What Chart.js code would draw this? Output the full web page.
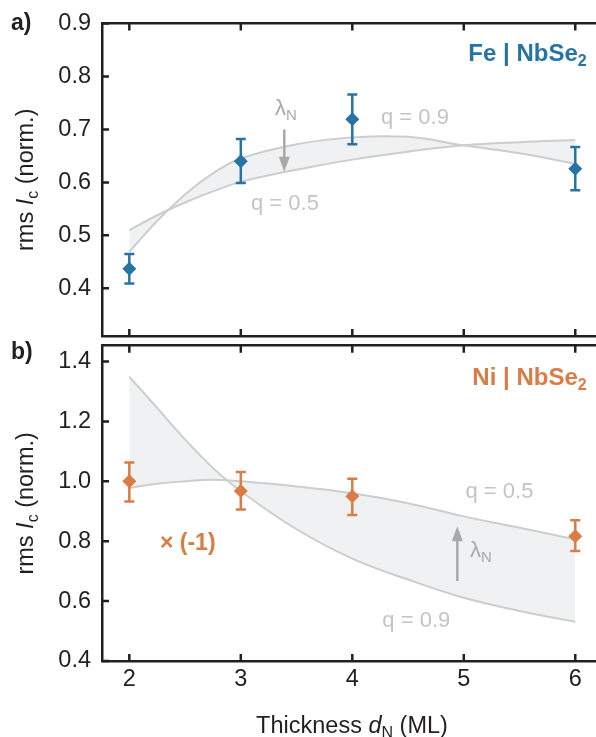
<!DOCTYPE html>
<html>
<head>
<meta charset="utf-8">
<script src="https://cdn.jsdelivr.net/npm/chart.js@4.4.0/dist/chart.umd.min.js"></script>
<style>
  body { margin: 0; background: #fff; }
  #wrap { position: relative; width: 596px; height: 737px; overflow: hidden; }
  canvas { position: absolute; left: 0; }
  #top { top: 0; }
  #bottom { top: 340px; }
</style>
</head>
<body>
<div id="wrap">
  <canvas id="top" width="596" height="340"></canvas>
  <canvas id="bottom" width="596" height="397"></canvas>
</div>
<script>
// measured points (thickness in ML)
const thickness = [2, 3, 4, 6];
const feValues = [0.437, 0.640, 0.719, 0.626];
const feErrLow = [0.409, 0.599, 0.672, 0.585];
const feErrHigh = [0.465, 0.682, 0.766, 0.667];
const niValues = [1.000, 0.968, 0.950, 0.817];
const niErrLow = [0.933, 0.906, 0.888, 0.767];
const niErrHigh = [1.063, 1.031, 1.009, 0.870];

// model curves
const modelX = [2, 2.25, 2.5, 2.75, 3, 3.5, 4, 4.5, 5, 5.5, 6];
const feQ05 = [0.510, 0.538, 0.562, 0.583, 0.601, 0.624, 0.643, 0.658, 0.670, 0.676, 0.680];
const feQ09 = [0.469, 0.527, 0.577, 0.617, 0.645, 0.672, 0.685, 0.686, 0.670, 0.655, 0.635];
const niQ05 = [0.978, 0.992, 1.000, 1.005, 1.000, 0.983, 0.960, 0.927, 0.883, 0.845, 0.806];
const niQ09 = [1.350, 1.245, 1.140, 1.045, 0.967, 0.840, 0.742, 0.672, 0.611, 0.567, 0.531];

// tick labels
const xTicks = [2, 3, 4, 5, 6];
const feYTicks = [0.4, 0.5, 0.6, 0.7, 0.8, 0.9];
const niYTicks = [0.4, 0.6, 0.8, 1.0, 1.2, 1.4];

const FONT = '"Liberation Sans", Arial, Helvetica, sans-serif';
const INK = '#231f20';
const BLUE = '#2774a4';
const ORANGE = '#d97c45';
const CURVE = '#cdcdcd';
const FILL = '#f0f1f3';
const QTXT = '#c4c4c4';
const ARROW = '#a9a9a9';

const f = (size, style = '') => `${style} ${size}px ${FONT}`.trim();
const pts = (xs, ys) => xs.map((x, i) => ({ x, y: ys[i] }));

// no automatic label padding, the boxes are placed by hand
const noPad = s => { s.paddingTop = s.paddingBottom = s.paddingLeft = s.paddingRight = 0; };

// draw a run of text pieces [text, font, dy]
const drawParts = (ctx, parts, x, y, align) => {
    let w = 0;
    parts.forEach(p => { ctx.font = p[1]; w += ctx.measureText(p[0]).width; });
    let cx = align === 'right' ? x - w : align === 'center' ? x - w / 2 : x;
    ctx.textAlign = 'left';
    ctx.textBaseline = 'alphabetic';
    parts.forEach(p => {
        ctx.font = p[1];
        ctx.fillText(p[0], cx, y + (p[2] || 0));
        cx += ctx.measureText(p[0]).width;
    });
};

const drawArrow = (ctx, x, y0, y1) => {
    const dir = Math.sign(y1 - y0);
    ctx.strokeStyle = ARROW; ctx.fillStyle = ARROW; ctx.lineWidth = 2.5;
    ctx.beginPath(); ctx.moveTo(x, y0); ctx.lineTo(x, y1 - dir * 12); ctx.stroke();
    ctx.beginPath();
    ctx.moveTo(x, y1);
    ctx.lineTo(x - 5.5, y1 - dir * 15);
    ctx.lineTo(x + 5.5, y1 - dir * 15);
    ctx.closePath(); ctx.fill();
};

const panelPlugin = (o) => ({
    id: 'panel',
    afterDatasetDraw(chart, args) {
        if (args.index !== 1) return; // error bars go under the diamonds
        const { ctx, scales: { x, y } } = chart;
        ctx.save();
        ctx.strokeStyle = o.color; ctx.lineWidth = 2.5;
        thickness.forEach((v, i) => {
            const px = x.getPixelForValue(v);
            const lo = y.getPixelForValue(o.low[i]);
            const hi = y.getPixelForValue(o.high[i]);
            ctx.beginPath();
            ctx.moveTo(px, lo); ctx.lineTo(px, hi);
            ctx.moveTo(px - 5, lo); ctx.lineTo(px + 5, lo);
            ctx.moveTo(px - 5, hi); ctx.lineTo(px + 5, hi);
            ctx.stroke();
        });
        ctx.restore();
    },
    afterDraw(chart) {
        const { ctx, chartArea: a, scales: { x, y } } = chart;
        const X = v => x.getPixelForValue(v), Y = v => y.getPixelForValue(v);
        ctx.save();

        // inward tick marks
        ctx.strokeStyle = INK; ctx.lineWidth = 2.5;
        ctx.beginPath();
        y.ticks.forEach(t => { const py = Y(t.value); ctx.moveTo(a.left, py); ctx.lineTo(a.left + 7, py); });
        x.ticks.forEach(t => {
            const px = X(t.value);
            ctx.moveTo(px, a.bottom); ctx.lineTo(px, a.bottom - 7);
            ctx.moveTo(px, a.top); ctx.lineTo(px, a.top + 7);
        });
        ctx.stroke();

        // y title
        ctx.fillStyle = INK;
        ctx.save();
        ctx.translate(33, (a.top + a.bottom) / 2);
        ctx.rotate(-Math.PI / 2);
        drawParts(ctx, [['rms ', f(23.5)], ['I', f(23.5, 'italic')], ['c', f(16), 5], [' (norm.)', f(23.5)]], 0, 0, 'center');
        ctx.restore();

        // panel letter
        ctx.fillStyle = INK;
        ctx.font = f(23, 'bold');
        ctx.textAlign = 'left'; ctx.textBaseline = 'alphabetic';
        ctx.fillText(o.letter, 11, o.letterY);

        // material label
        ctx.fillStyle = o.color;
        drawParts(ctx, [[o.material + ' | NbSe', f(24, 'bold')], ['2', f(16, 'bold'), 5]], X(o.labelAt[0]), Y(o.labelAt[1]), 'right');

        // q labels
        ctx.fillStyle = QTXT;
        drawParts(ctx, [['q = 0.5', f(22)]], X(o.q05At[0]), Y(o.q05At[1]), 'center');
        drawParts(ctx, [['q = 0.9', f(22)]], X(o.q09At[0]), Y(o.q09At[1]), 'center');

        // lambda arrow
        drawArrow(ctx, X(o.arrow[0]), Y(o.arrow[1]), Y(o.arrow[2]));
        ctx.fillStyle = ARROW;
        drawParts(ctx, [['λ', f(22)], ['N', f(15), 5]], X(o.lambdaAt[0]), Y(o.lambdaAt[1]), 'left');

        if (o.extra) o.extra(ctx, X, Y, a);
        ctx.restore();
    }
});

const makeChart = (id, o) => new Chart(document.getElementById(id), {
    type: 'scatter',
    data: {
        datasets: [
            { data: pts(thickness, o.values), pointStyle: 'rectRot', pointRadius: 7, pointBorderWidth: 0,
              backgroundColor: o.color, borderColor: o.color, showLine: false },
            { data: pts(modelX, o.q05), showLine: true, borderColor: CURVE, borderWidth: 2, pointRadius: 0,
              tension: 0.4, fill: false },
            { data: pts(modelX, o.q09), showLine: true, borderColor: CURVE, borderWidth: 2, pointRadius: 0,
              tension: 0.4, fill: 1, backgroundColor: FILL }
        ]
    },
    options: {
        responsive: false,
        animation: false,
        devicePixelRatio: 1,
        layout: { padding: o.padding, autoPadding: false },
        plugins: { legend: { display: false }, tooltip: { enabled: false } },
        scales: {
            x: {
                type: 'linear', position: 'bottom', min: 1.755, max: 6.186,
                afterBuildTicks: s => { s.ticks = xTicks.map(value => ({ value })); },
                afterFit: s => { s.height = o.xHeight; noPad(s); },
                ticks: { display: o.showXLabels, font: { family: FONT, size: 23.5 }, color: INK, padding: 4 },
                grid: { display: false, drawTicks: false },
                border: { display: true, color: INK, width: 2.5 }
            },
            x2: {
                type: 'linear', position: 'top', min: 1.755, max: 6.186,
                afterFit: s => { s.height = 0; noPad(s); },
                ticks: { display: false },
                grid: { display: false, drawTicks: false },
                border: { display: true, color: INK, width: 2.5 }
            },
            y: {
                min: o.yMin, max: o.yMax,
                afterBuildTicks: s => { s.ticks = o.yTicks.map(value => ({ value })); },
                afterFit: s => { s.width = 102; noPad(s); },
                ticks: { font: { family: FONT, size: 23.5 }, color: INK, padding: 11, callback: v => v.toFixed(1) },
                grid: { display: false, drawTicks: false },
                border: { display: true, color: INK, width: 2.5 }
            }
        }
    },
    plugins: [panelPlugin(o)]
});

makeChart('top', {
    color: BLUE, values: feValues, low: feErrLow, high: feErrHigh, q05: feQ05, q09: feQ09,
    yTicks: feYTicks, yMin: 0.31, yMax: 0.9,
    padding: { top: 23.5, bottom: 4, left: 0, right: 0 }, xHeight: 0, showXLabels: false,
    letter: 'a)', letterY: 30, material: 'Fe', labelAt: [6.102, 0.829],
    q05At: [3.396, 0.548], q09At: [4.562, 0.710],
    arrow: [3.39, 0.70, 0.62], lambdaAt: [3.307, 0.727]
});

makeChart('bottom', {
    color: ORANGE, values: niValues, low: niErrLow, high: niErrHigh, q05: niQ05, q09: niQ09,
    yTicks: niYTicks, yMin: 0.4, yMax: 1.453,
    padding: { top: 5.7, bottom: 0, left: 0, right: 0 }, xHeight: 76, showXLabels: true,
    letter: 'b)', letterY: 19, material: 'Ni', labelAt: [6.102, 1.322],
    q05At: [5.32, 0.946], q09At: [4.574, 0.512],
    arrow: [4.942, 0.667, 0.85], lambdaAt: [5.055, 0.746],
    extra: (ctx, X, Y, a) => {
        ctx.fillStyle = ORANGE;
        drawParts(ctx, [['× (-1)', f(23, 'bold')]], X(2.275), Y(0.772), 'left');
        ctx.fillStyle = INK;
        drawParts(ctx, [['Thickness ', f(23.5)], ['d', f(23.5, 'italic')], ['N', f(16), 5], [' (ML)', f(23.5)]],
            (a.left + a.right) / 2 + 3, 393, 'center');
    }
});
</script>
</body>
</html>
